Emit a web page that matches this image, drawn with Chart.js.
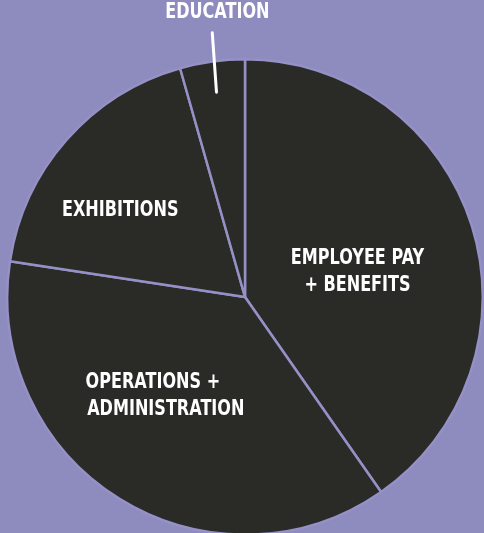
<!DOCTYPE html>
<html>
<head>
<meta charset="utf-8">
<script src="https://cdn.jsdelivr.net/npm/chart.js@4/dist/chart.umd.min.js"></script>
<style>
  html, body { margin: 0; padding: 0; overflow: hidden; background: #8e8bbf; }
  #wrap { width: 484px; height: 540px; }
</style>
</head>
<body>
<div id="wrap"><canvas id="budgetChart"></canvas></div>
<script>
// budget shares, read clockwise from 12 o'clock
const categories = ['Employee Pay + Benefits', 'Operations + Administration', 'Exhibitions', 'Education'];
const shares = [40.3, 37.1, 18.2, 4.4];

// label text per slice (split into lines as in the picture)
const labelLines = [
  ['EMPLOYEE PAY', '+ BENEFITS'],
  ['OPERATIONS +', 'ADMINISTRATION'],
  ['EXHIBITIONS'],
  ['EDUCATION']
];

// where each label sits: angle shift from slice middle (deg), radius fraction, per-line x nudges
const labelPlace = [
  { dAng: 4.8, r: 0.485, dx: [0, 0] },
  { dAng: 8.8, r: 0.55, dx: [-7, 6] },
  { dAng: -6.5, r: 0.64, dx: [0] },
  { dAng: 0, r: 1.21, dx: [12], leader: [0.87, 1.12] }
];

const squeeze = 0.73; // narrow the letters, the original uses a tall marker font

const sliceLabels = {
  id: 'sliceLabels',
  afterDatasetsDraw(chart) {
    const c = chart.ctx;
    const arcs = chart.getDatasetMeta(0).data;
    c.save();
    c.fillStyle = '#ffffff';
    c.strokeStyle = '#ffffff';
    c.font = 'bold 22px "DejaVu Sans", sans-serif';
    c.textAlign = 'center';
    c.textBaseline = 'middle';
    arcs.forEach((arc, i) => {
      const p = arc.getProps(['x', 'y', 'startAngle', 'endAngle', 'outerRadius'], true);
      const mid = (p.startAngle + p.endAngle) / 2 + labelPlace[i].dAng * Math.PI / 180;
      const cx = p.x + Math.cos(mid) * p.outerRadius * labelPlace[i].r;
      const cy = p.y + Math.sin(mid) * p.outerRadius * labelPlace[i].r;
      const lines = labelLines[i];
      const lh = 27;
      lines.forEach((t, j) => {
        c.save();
        c.translate(cx + labelPlace[i].dx[j], cy + (j - (lines.length - 1) / 2) * lh);
        c.scale(squeeze, 1);
        c.fillText(t, 0, 0);
        c.restore();
      });
      if (labelPlace[i].leader) {
        const a = (p.startAngle + p.endAngle) / 2;
        const [r0, r1] = labelPlace[i].leader;
        c.lineWidth = 3;
        c.lineCap = 'round';
        c.beginPath();
        c.moveTo(p.x + Math.cos(a) * p.outerRadius * r0, p.y + Math.sin(a) * p.outerRadius * r0);
        c.lineTo(p.x + Math.cos(a + 0.015) * p.outerRadius * r1, p.y + Math.sin(a + 0.015) * p.outerRadius * r1);
        c.stroke();
      }
    });
    c.restore();
  }
};

new Chart(document.getElementById('budgetChart'), {
  type: 'pie',
  data: {
    labels: categories,
    datasets: [{
      data: shares,
      backgroundColor: '#2a2b27',
      borderColor: '#9591c6',
      borderWidth: 2.5
    }]
  },
  options: {
    responsive: true,
    maintainAspectRatio: false,
    animation: false,
    layout: { padding: { top: 58, bottom: 4, left: 6, right: 0 } },
    plugins: {
      legend: { display: false },
      tooltip: { enabled: false }
    }
  },
  plugins: [sliceLabels]
});
</script>
</body>
</html>
